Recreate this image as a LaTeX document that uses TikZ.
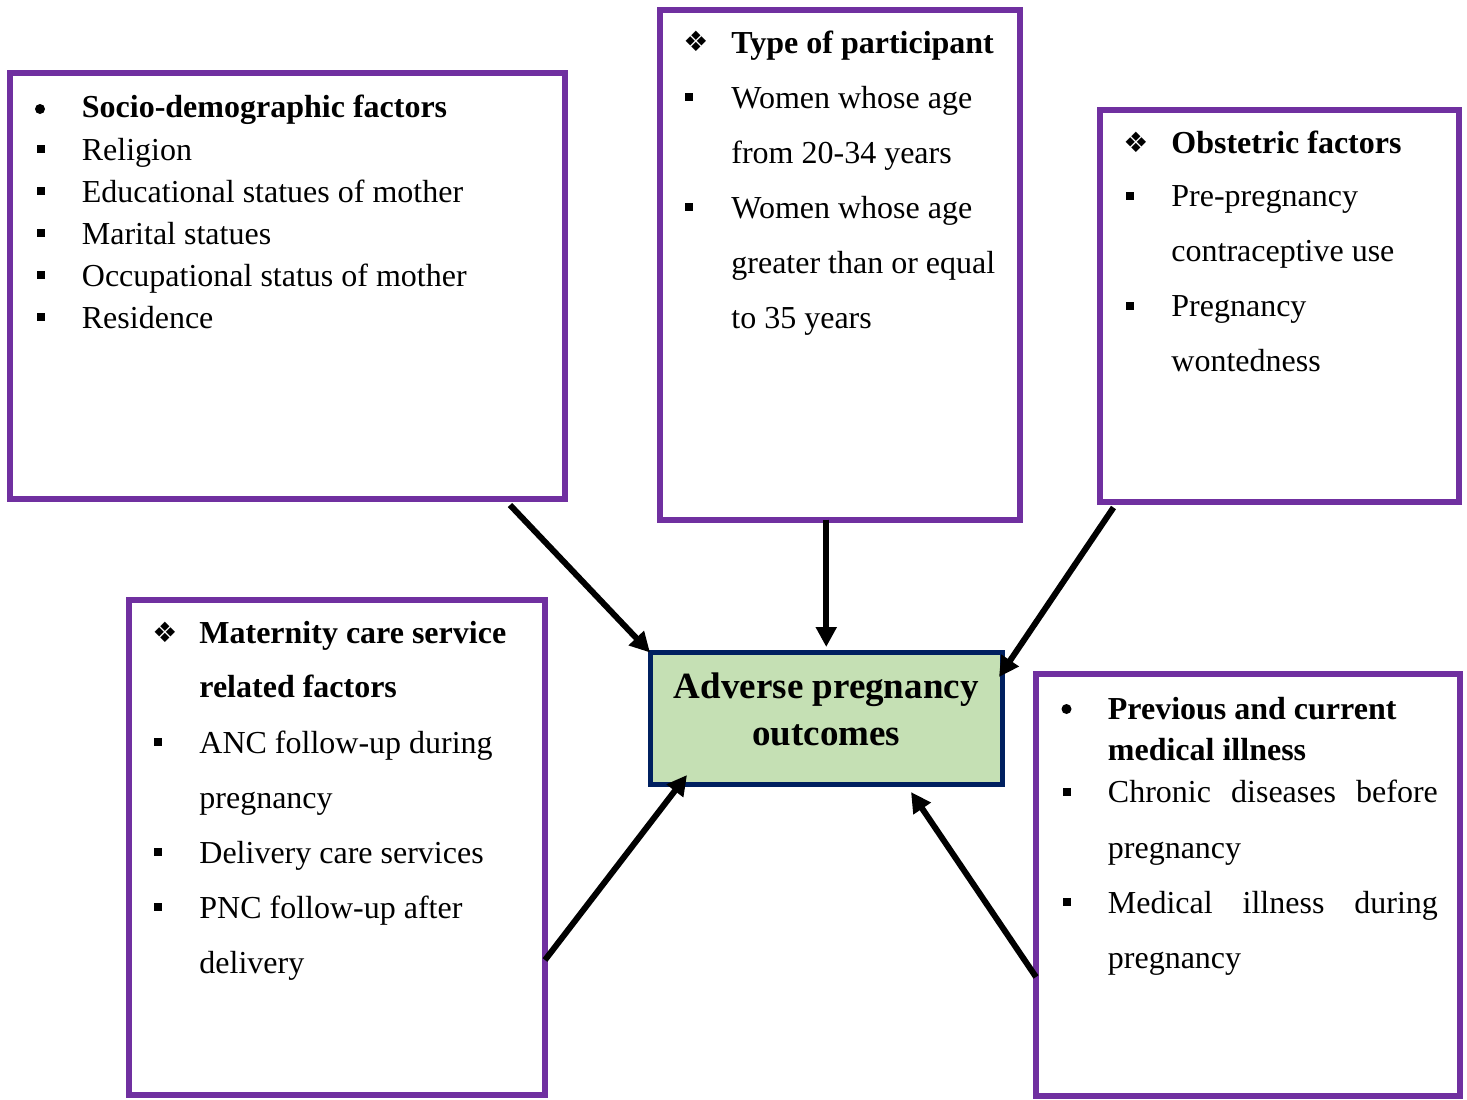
\documentclass[tikz,border=0pt]{standalone}
\usepackage{fontspec}
\setmainfont{Liberation Serif}
\newfontfamily\dingfont{DejaVu Sans}
\usetikzlibrary{arrows.meta}

\definecolor{boxpurple}{HTML}{7030A0}
\definecolor{outnavy}{HTML}{002060}
\definecolor{outgreen}{HTML}{C5E0B4}

\tikzset{
	factor/.style={draw=boxpurple,line width=3pt,anchor=north west,inner sep=0pt,outer sep=0pt},
	outbox/.style={draw=outnavy,fill=outgreen,line width=2.5pt,inner sep=0pt,outer sep=0pt,align=center,
		font=\fontsize{18.5pt}{23.3pt}\selectfont\bfseries,text depth=9.5pt},
	item/.style={anchor=base west,inner sep=0pt,font=\fontsize{16pt}{19pt}\selectfont},
	head/.style={item,font=\fontsize{16pt}{19pt}\selectfont\bfseries},
	sq/.style={fill=black,inner sep=0pt,minimum size=4pt},
	dot/.style={fill=black,circle,inner sep=0pt,minimum size=5pt},
	dia/.style={inner sep=0pt,font=\dingfont\fontsize{14pt}{14pt}\selectfont},
	arr/.style={line width=3pt,-{Triangle[length=10pt,width=10pt]}}
}

\begin{document}
\begin{tikzpicture}[x=0.5pt,y=-0.5pt]

	\useasboundingbox (0,0) rectangle (1467,1099);

	\node[factor,minimum width=277.25pt,minimum height=212.75pt] (socio) at (10,73) {};
	\node[factor,minimum width=180pt,minimum height=254.85pt] (type) at (659.7,10) {};
	\node[factor,minimum width=179.75pt,minimum height=195.75pt] (obst) at (1099.5,110) {};
	\node[factor,minimum width=208.25pt,minimum height=247.5pt] (mat) at (128.5,600) {};
	\node[factor,minimum width=212pt,minimum height=211pt] (prev) at (1036,674) {};

	\node[outbox,minimum width=176.25pt,minimum height=66pt] (out) at (826.25,718.5) {Adverse pregnancy\\outcomes};

	\node[dot] (socio-b0) at (40,109) {};
	\node[head] (socio-t0) at (81.5,117) {Socio-demographic factors};
	\foreach \yy/\txt [count=\i] in {160/Religion,202/Educational statues of mother,244/Marital statues,286/Occupational status of mother,328/Residence}{
		\node[sq] (socio-b\i) at (40.5,\yy-11) {};
		\node[item] (socio-t\i) at (81.5,\yy) {\txt};
	}

	\node[dia] (type-b0) at (696,41.5) {❖};
	\node[head] (type-t0) at (731,53) {Type of participant};
	\foreach \yy/\txt [count=\i] in {108/Women whose age,163/from 20-34 years,218/Women whose age,273/greater than or equal,328/to 35 years}
		\node[item] (type-t\i) at (731,\yy) {\txt};
	\foreach \yy [count=\i] in {108,218}
		\node[sq] (type-b\i) at (689,\yy-11) {};

	\node[dia] (obst-b0) at (1136,142.5) {❖};
	\node[head] (obst-t0) at (1171,153.3) {Obstetric factors};
	\foreach \yy/\txt [count=\i] in {206.7/Pre-pregnancy,261.7/contraceptive use,316.7/Pregnancy,371.7/wontedness}
		\node[item] (obst-t\i) at (1171,\yy) {\txt};
	\foreach \yy [count=\i] in {206.7,316.7}
		\node[sq] (obst-b\i) at (1129.5,\yy-11) {};

	\node[dia] (mat-b0) at (165,632.5) {❖};
	\node[head] (mat-h1) at (199,643.3) {Maternity care service};
	\node[head] (mat-h2) at (199,697.5) {related factors};
	\foreach \yy/\txt [count=\i] in {753/ANC follow-up during,808/pregnancy,863/Delivery care services,918/PNC follow-up after,973/delivery}
		\node[item] (mat-t\i) at (199,\yy) {\txt};
	\foreach \yy [count=\i] in {753,863,918}
		\node[sq] (mat-b\i) at (158,\yy-11) {};

	\node[dot] (prev-b0) at (1066.5,709) {};
	\node[head] (prev-h1) at (1107.5,719.3) {Previous and current};
	\node[head] (prev-h2) at (1107.5,760) {medical illness};
	\node[item] (prev-t1) at (1107.5,802.7) {\makebox[165pt][s]{Chronic diseases before}};
	\node[item] (prev-t2) at (1107.5,858) {pregnancy};
	\node[item] (prev-t3) at (1107.5,913) {\makebox[165pt][s]{Medical illness during}};
	\node[item] (prev-t4) at (1107.5,968) {pregnancy};
	\foreach \yy [count=\i] in {802.7,913}
		\node[sq] (prev-b\i) at (1067,\yy-11) {};

	\draw[arr] ([shift={(-54.5,6.5)}]socio.south east) -- (out.north west);
	\draw[arr] (type.south -| out.north) -- ([shift={(0,-5.5)}]out.north);
	\draw[arr] ([shift={(14,6)}]obst.south west) -- ([shift={(-3.5,24.5)}]out.north east);
	\draw[arr] ([shift={(0,-135)}]mat.south east) -- ([shift={(37,-9.5)}]out.south west);
	\draw[arr] ([shift={(0,-119)}]prev.south west) -- ([shift={(-91.5,7.5)}]out.south east);

\end{tikzpicture}
\end{document}
